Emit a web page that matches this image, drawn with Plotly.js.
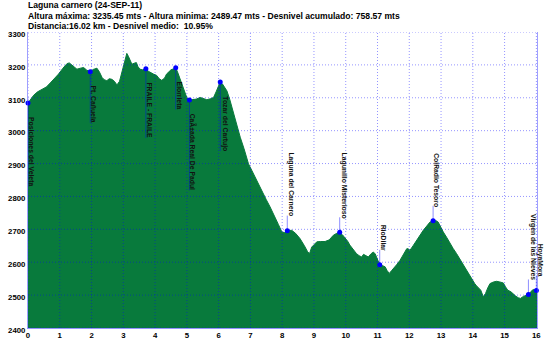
<!DOCTYPE html>
<html>
<head>
<meta charset="utf-8">
<script src="https://cdn.plot.ly/plotly-3.0.1.min.js"></script>
<style>html,body{margin:0;padding:0;background:#fff;}#chart{width:550px;height:346px;}</style>
</head>
<body>
<div id="chart"></div>
<script>
// Profile: distance (km) and altitude (m)
const distKm = [0.00,0.10,0.18,0.30,0.44,0.58,0.70,0.85,0.96,1.10,1.23,1.30,1.38,1.46,1.54,1.65,1.75,1.85,1.96,2.05,2.17,2.25,2.33,2.40,2.48,2.56,2.64,2.72,2.80,2.88,2.96,3.04,3.11,3.16,3.22,3.27,3.34,3.41,3.46,3.52,3.60,3.71,3.80,3.88,3.95,4.05,4.13,4.21,4.30,4.36,4.42,4.50,4.58,4.65,4.72,4.78,4.84,4.92,5.00,5.08,5.18,5.30,5.42,5.52,5.63,5.74,5.84,5.92,6.00,6.05,6.12,6.20,6.26,6.35,6.47,6.58,6.68,6.80,6.94,7.05,7.20,7.30,7.41,7.50,7.62,7.70,7.78,7.88,7.99,8.08,8.16,8.30,8.42,8.56,8.70,8.80,8.86,8.93,9.02,9.09,9.20,9.35,9.48,9.61,9.72,9.81,9.90,9.98,10.06,10.13,10.22,10.34,10.42,10.50,10.56,10.62,10.71,10.80,10.87,10.93,10.97,11.02,11.07,11.15,11.24,11.30,11.37,11.44,11.50,11.60,11.71,11.80,11.92,11.97,12.02,12.12,12.23,12.34,12.44,12.55,12.65,12.75,12.83,12.91,12.98,13.07,13.18,13.28,13.38,13.49,13.60,13.70,13.80,13.91,14.01,14.06,14.12,14.18,14.25,14.33,14.40,14.47,14.54,14.65,14.75,14.85,14.96,15.03,15.10,15.20,15.27,15.35,15.43,15.50,15.59,15.67,15.75,15.82,15.90,16.00,16.02];
const altM = [3084,3098,3108,3118,3126,3133,3145,3160,3172,3190,3204,3206,3200,3195,3187,3190,3192,3184,3179,3186,3190,3178,3162,3155,3152,3158,3156,3150,3139,3150,3182,3210,3235,3226,3212,3202,3205,3207,3195,3187,3185,3188,3180,3177,3172,3168,3158,3153,3160,3172,3177,3185,3188,3191,3175,3158,3141,3118,3100,3093,3095,3096,3101,3098,3094,3097,3101,3118,3140,3148,3142,3130,3121,3095,3051,3015,2980,2945,2899,2878,2848,2828,2803,2790,2768,2752,2740,2715,2692,2690,2696,2697,2688,2672,2650,2632,2626,2646,2655,2662,2663,2663,2668,2682,2688,2691,2683,2675,2664,2652,2640,2626,2620,2616,2624,2621,2616,2626,2631,2625,2616,2603,2592,2590,2586,2575,2566,2574,2580,2592,2606,2622,2641,2641,2636,2650,2667,2682,2697,2710,2722,2726,2727,2722,2708,2692,2675,2657,2642,2626,2608,2591,2575,2561,2541,2535,2528,2522,2515,2495,2505,2522,2535,2540,2542,2540,2537,2525,2515,2510,2503,2497,2492,2490,2496,2498,2502,2510,2517,2514,2515];

// Waypoints
const wpNames = ["Posiciones del Veleta","Pt. Cañuela","FRAILE - FRAILE","Elorrieta","CaÃ±ada Real De Padul","Tozar del Cartujo","Laguna del Carnero","Lagunillo Misterioso","RioDilar","ColRadio Tesoro","Virgen de las Nieves","HoyaMora"];
const wpKm   = [0.00,1.96,3.71,4.65,5.08,6.05,8.16,9.81,11.07,12.75,15.75,16.00];
const wpAlt  = [3084,3179,3188,3191,3093,3148,2696,2691,2592,2726,2502,2514];
const wpSide = ["below","below","below","below","below","below","above","above","above","above","above","above"];

// Axis ticks
const xTickVals = [0,1,2,3,4,5,6,7,8,9,10,11,12,13,14,15,16];
const yTickVals = [2400,2500,2600,2700,2800,2900,3000,3100,3200,3300];

const titleLines = [
  "Laguna carnero (24-SEP-11)",
  "Altura máxima: 3235.45 mts - Altura minima: 2489.47 mts - Desnivel acumulado: 758.57 mts",
  "Distancia:16.02 km - Desnivel medio:  10.95%"
];

const FONT = '"Liberation Sans", Arial, sans-serif';
const GRID = 'rgba(0,0,255,0.42)';
const labelSize = 6.8;
const gap = 14;

const cv = document.createElement('canvas').getContext('2d');
cv.font = 'bold ' + labelSize + 'px "Liberation Sans"';

const shapes = [];
xTickVals.forEach(v => shapes.push({type:'line', xref:'x', yref:'y', x0:v, x1:v, y0:yTickVals[0], y1:yTickVals[yTickVals.length-1], layer:'above', line:{color:GRID, width:1, dash:'1px,2px'}}));
yTickVals.forEach(v => shapes.push({type:'line', xref:'x', yref:'y', x0:0, x1:distKm[distKm.length-1], y0:v, y1:v, layer:'above', line:{color:GRID, width:1, dash:'1px,2px'}}));

const annotations = [];
wpNames.forEach((n, i) => {
  const w = cv.measureText(n).width;
  const below = wpSide[i] === 'below';
  const len = below ? -(gap + w) : (gap + 1);
  shapes.push({type:'line', xref:'x', yref:'y', ysizemode:'pixel', yanchor:wpAlt[i], x0:wpKm[i], x1:wpKm[i], y0:0, y1:len, layer:'above', line:{color:'rgba(0,0,255,0.45)', width:1}});
  annotations.push({
    text: n, x: wpKm[i], y: wpAlt[i], xref:'x', yref:'y', showarrow:false, textangle:90,
    xanchor:'left', yanchor: below ? 'top' : 'bottom', yshift: below ? -gap + 1 : gap - 1, xshift:-1,
    font:{family:FONT, size:labelSize, color:'#111', weight:'bold'}, borderpad:0
  });
});

titleLines.forEach((t, i) => {
  annotations.push({
    text: t, xref:'paper', yref:'paper', x:0, y:1, xanchor:'left', yanchor:'bottom',
    yshift: 21 - i * 10.6, xshift:-1, showarrow:false, borderpad:0,
    font:{family:FONT, size:8.6, color:'#000', weight:'bold'}
  });
});

const traces = [
  {x: distKm, y: altM, type:'scatter', mode:'lines', fill:'tozeroy', fillcolor:'rgb(8,122,60)', line:{color:'rgb(8,122,60)', width:1}, hoverinfo:'skip'},
  {x: wpKm, y: wpAlt, type:'scatter', mode:'markers', marker:{color:'#0000ff', size:5}, hoverinfo:'skip', cliponaxis:false}
];

const layout = {
  width:550, height:346,
  margin:{l:28, r:13, t:32, b:18, pad:0, autoexpand:false},
  paper_bgcolor:'#fff', plot_bgcolor:'#fff',
  showlegend:false,
  xaxis:{range:[0, distKm[distKm.length-1]], tickvals:xTickVals, ticktext:xTickVals.map(String), showgrid:false, zeroline:false, automargin:false,
         showline:true, linecolor:GRID, linewidth:1, ticks:'', layer:'above traces',
         tickfont:{family:FONT, size:7.8, color:'#000', weight:'bold'}},
  yaxis:{range:[2400, 3300], tickvals:yTickVals, ticktext:yTickVals.map(String), showgrid:false, zeroline:false, automargin:false,
         showline:true, mirror:true, linecolor:'rgba(80,80,255,0.55)', linewidth:1, ticks:'', ticklabelshift:2, layer:'above traces',
         tickfont:{family:FONT, size:7.8, color:'#000', weight:'bold'}},
  shapes: shapes,
  annotations: annotations
};

Plotly.newPlot('chart', traces, layout, {staticPlot:true, displayModeBar:false});
</script>
</body>
</html>
